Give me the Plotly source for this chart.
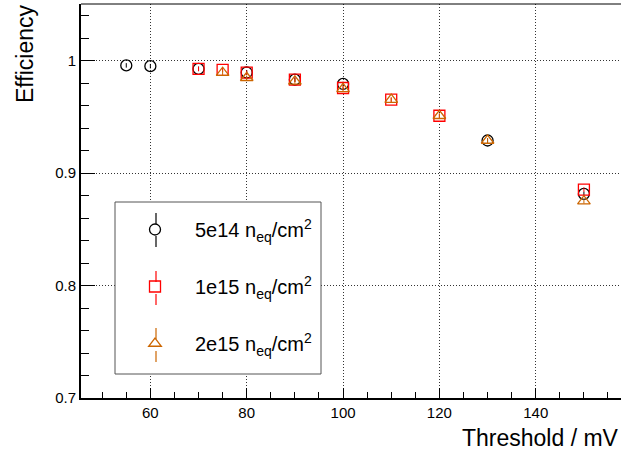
import plotly.graph_objects as go

# ---- data ----
x_5e14 = [55, 60, 70, 80, 90, 100, 130, 150]
y_5e14 = [0.9958, 0.9951, 0.9927, 0.9895, 0.9831, 0.9793, 0.9290, 0.8815]
x_1e15 = [70, 75, 80, 90, 100, 110, 120, 150]
y_1e15 = [0.9927, 0.9918, 0.9893, 0.9831, 0.9757, 0.9653, 0.9510, 0.8853]
x_2e15 = [75, 80, 90, 100, 110, 120, 130, 150]
y_2e15 = [0.9893, 0.9848, 0.9816, 0.9749, 0.9653, 0.9510, 0.9290, 0.8750]
err_5e14 = [0.002] * len(x_5e14)
err_1e15 = [0.002] * len(x_1e15)
err_2e15 = [0.002] * len(x_2e15)
names = ["5e14 n<sub>eq</sub>/cm<sup>2</sup>",
         "1e15 n<sub>eq</sub>/cm<sup>2</sup>",
         "2e15 n<sub>eq</sub>/cm<sup>2</sup>"]

FONT = "Liberation Sans, Arial, sans-serif"
colors = ["#000000", "#ff0000", "#cc6600"]
symbols = ["circle-open", "square-open", "triangle-up-open"]

fig = go.Figure()
for i, (xs, ys, es) in enumerate([(x_5e14, y_5e14, err_5e14),
                                  (x_1e15, y_1e15, err_1e15),
                                  (x_2e15, y_2e15, err_2e15)]):
    fig.add_trace(go.Scatter(
        x=xs, y=ys, mode="markers", name=names[i],
        legendgroup=str(i),
        marker=dict(symbol=symbols[i], size=11, color=colors[i],
                    line=dict(width=1.3, color=colors[i])),
        error_y=dict(type="data", array=es, color=colors[i], thickness=1, width=0),
    ))

W, H = 621, 452
L, R, T, B = 81, 0, 4, 54
pw, ph = W - L - R, H - T - B


def px_x(p):
    return (p - L) / pw


def px_y(p):
    return (H - B - p) / ph


shapes = [
    dict(type="line", xref="paper", yref="paper", x0=0, x1=1, y0=1, y1=1,
         line=dict(color="black", width=1)),
    # legend frame
    dict(type="rect", xref="paper", yref="paper", layer="above",
         x0=px_x(115), x1=px_x(321), y0=px_y(374), y1=px_y(202),
         fillcolor="white", line=dict(color="#555555", width=1)),
]
# legend error-bar strokes
leg_centers = [230, 288, 345]
for c, col in zip(leg_centers, colors):
    for a, b in [(c - 17, c - 6), (c + 6, c + 17)]:
        shapes.append(dict(type="line", xref="paper", yref="paper", layer="above",
                           x0=px_x(156), x1=px_x(156), y0=px_y(a), y1=px_y(b),
                           line=dict(color=col, width=1.2)))

fig.update_layout(
    width=W, height=H,
    margin=dict(l=L, r=R, t=T, b=B),
    paper_bgcolor="white", plot_bgcolor="white",
    font=dict(family=FONT, size=15, color="black"),
    showlegend=True,
    legend=dict(
        x=px_x(115), y=px_y(210),
        xanchor="left", yanchor="top",
        borderwidth=0, bgcolor="rgba(0,0,0,0)",
        font=dict(family=FONT, size=20, color="black"),
        tracegroupgap=28, itemwidth=70,
    ),
    xaxis=dict(
        range=[45.6, 157.7], showline=True, linecolor="black", linewidth=2,
        ticks="inside", ticklen=10, tickwidth=1, tickcolor="black",
        tickvals=[60, 80, 100, 120, 140],
        minor=dict(ticks="inside", ticklen=6, dtick=5, tick0=0, tickcolor="black", showgrid=False),
        showgrid=True, gridcolor="#333333", griddash="1px,2px", gridwidth=1,
        zeroline=False, tickfont=dict(size=15),
    ),
    yaxis=dict(
        range=[0.7, 1.0504], showline=True, linecolor="black", linewidth=2,
        ticks="inside", ticklen=14, tickwidth=1, tickcolor="black",
        tickvals=[0.7, 0.8, 0.9, 1.0],
        minor=dict(ticks="inside", ticklen=8, dtick=0.02, tick0=0.7, tickcolor="black", showgrid=False),
        showgrid=True, gridcolor="#333333", griddash="1px,2px", gridwidth=1,
        zeroline=False, tickfont=dict(size=15),
    ),
    shapes=shapes,
    annotations=[
        dict(text="Efficiency", xref="paper", yref="paper",
             x=px_x(25), y=px_y(54), textangle=-90,
             showarrow=False, font=dict(size=23, family=FONT),
             xanchor="center", yanchor="middle"),
        dict(text="Threshold / mV", xref="paper", yref="paper",
             x=1, y=px_y(438), showarrow=False,
             font=dict(size=23, family=FONT), xanchor="right", yanchor="middle"),
    ],
)

fig.write_html("out.html", post_script="document.body.style.margin='0';",
               config={"displayModeBar": False})
